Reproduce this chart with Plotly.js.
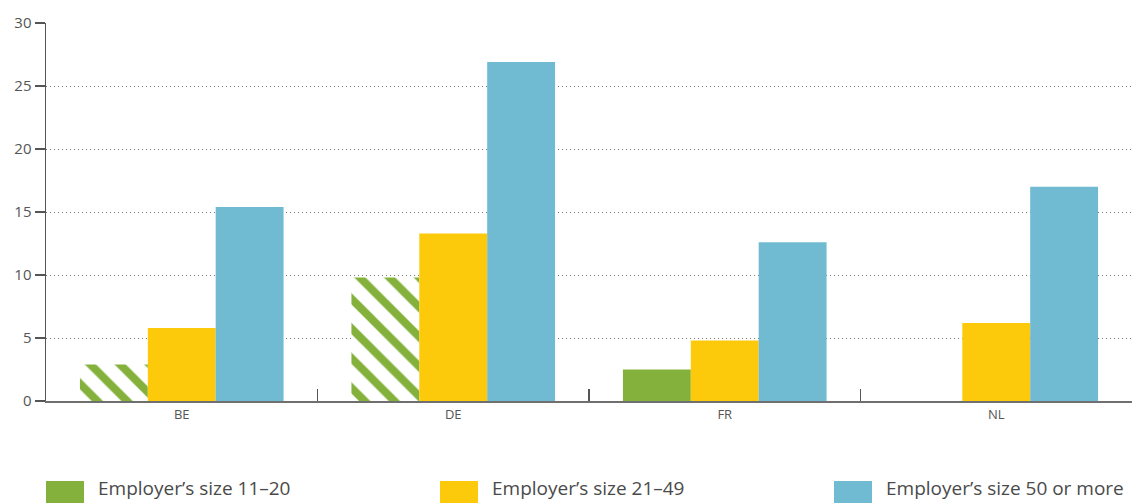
<!DOCTYPE html>
<html><head><meta charset="utf-8">
<script src="https://cdn.plot.ly/plotly-3.0.1.min.js"></script>
<style>body{margin:0;background:#fff}#c{width:1134px;height:503px}</style>
</head><body><div id="c"></div>
<script>
const categories = ['BE', 'DE', 'FR', 'NL'];
const size11to20 = [2.9, 9.8, 2.5, null];
const size11to20LowReliability = [true, true, false, false];
const size21to49 = [5.8, 13.3, 4.8, 6.2];
const size50plus = [15.4, 26.9, 12.6, 17.0];
const seriesNames = ["Employer\u2019s size 11\u201320", "Employer\u2019s size 21\u201349", "Employer\u2019s size 50 or more"];
const colors = ['#84B13B', '#FDC90B', '#70BAD2'];

const traces = [
  {type:'bar', x:categories, y:size11to20, name:seriesNames[0],
   marker:{color:colors[0], line:{width:0},
     pattern:{shape:size11to20LowReliability.map(f => f ? '\\' : ''), fgcolor:colors[0], bgcolor:'#ffffff', size:21, solidity:0.38, fillmode:'replace'}}},
  {type:'bar', x:categories, y:size21to49, name:seriesNames[1], marker:{color:colors[1], line:{width:0}}},
  {type:'bar', x:categories, y:size50plus, name:seriesNames[2], marker:{color:colors[2], line:{width:0}}}
];

const L = 46, R = 1132, W = 1134;
const plotW = R - L;
function px(x){ return (x - L) / plotW; }
const legendX = [46, 440, 834];
const shapes = [], annotations = [];
legendX.forEach((x, i) => {
  shapes.push({type:'rect', xref:'paper', yref:'paper', x0:px(x), x1:px(x+38), y0:-102/378, y1:-80/378, fillcolor:colors[i], line:{width:0}});
  annotations.push({xref:'paper', yref:'paper', x:px(x+50), y:-87/378, xanchor:'left', yanchor:'middle', showarrow:false, text:seriesNames[i], font:{family:'Open Sans, sans-serif', size:19, color:'#4a4a4a'}});
});

const layout = {
  width:1134, height:503,
  margin:{l:46, r:W-R, t:23, b:102},
  paper_bgcolor:'#fff', plot_bgcolor:'#fff',
  barmode:'group', bargap:0.25, bargroupgap:0,
  showlegend:false,
  font:{family:'Open Sans, sans-serif', color:'#555'},
  xaxis:{type:'category', showline:true, linecolor:'#6f6f6f', linewidth:2, ticks:'inside', ticklen:12, tickwidth:1.5, tickcolor:'#555', tickson:'boundaries', showgrid:false, tickfont:{size:13, color:'#555'}, fixedrange:true},
  yaxis:{range:[0,30], dtick:5, showline:true, linecolor:'#555', linewidth:1.5, ticks:'outside', ticklen:10, tickwidth:1.5, tickcolor:'#555', showgrid:true, gridcolor:'#777', griddash:'1px,3px', gridwidth:1, zeroline:false, tickfont:{size:15, color:'#555'}, fixedrange:true},
  shapes:shapes, annotations:annotations
};
Plotly.newPlot('c', traces, layout, {displayModeBar:false, staticPlot:true});
</script></body></html>
